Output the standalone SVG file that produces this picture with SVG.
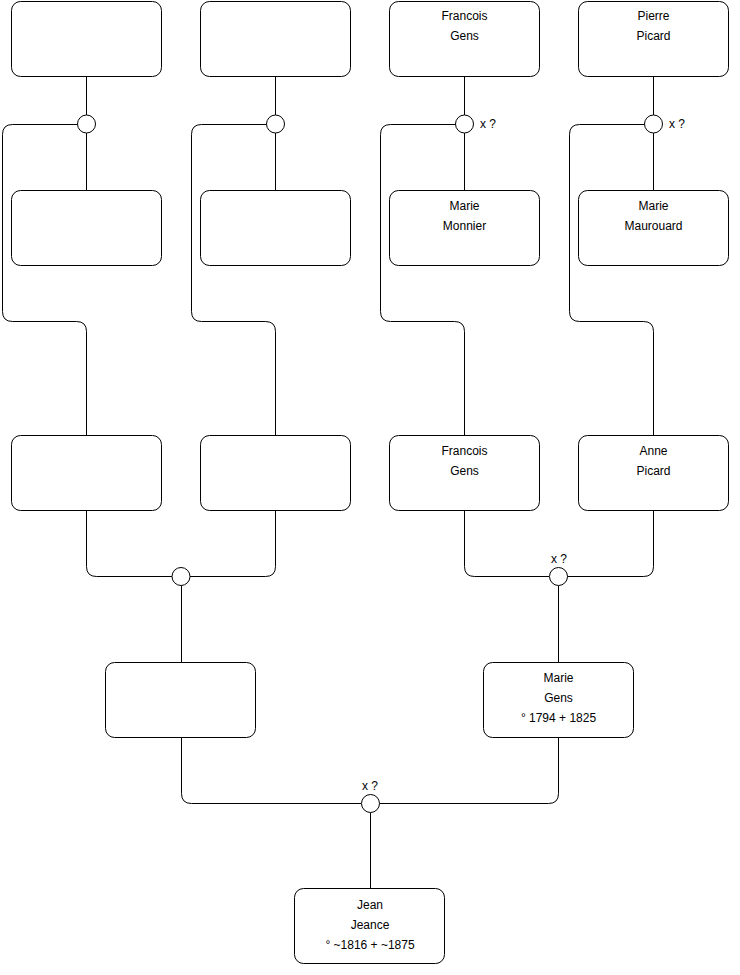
<svg xmlns="http://www.w3.org/2000/svg" width="740" height="975" viewBox="0 0 740 975">
<style>
.box{fill:#fff;stroke:#000;stroke-width:1}
.c{fill:#fff;stroke:#000;stroke-width:1}
.l{fill:none;stroke:#000;stroke-width:1}
text{font-family:"Liberation Sans",Arial,sans-serif;font-size:12px;fill:#000}
.m{text-anchor:middle}
</style>
<rect width="740" height="975" fill="#fff"/>
<g id="connectors">
<path class="l" d="M86.5 76.5V115 M86.5 133V190 M77.5 124.5H12.5Q2.5 124.5 2.5 134.5V311.5Q2.5 321.5 12.5 321.5H76.5Q86.5 321.5 86.5 331.5V435"/>
<path class="l" d="M275.5 76.5V115 M275.5 133V190 M266.5 124.5H201.5Q191.5 124.5 191.5 134.5V311.5Q191.5 321.5 201.5 321.5H265.5Q275.5 321.5 275.5 331.5V435"/>
<path class="l" d="M464.5 76.5V115 M464.5 133V190 M455.5 124.5H390.5Q380.5 124.5 380.5 134.5V311.5Q380.5 321.5 390.5 321.5H454.5Q464.5 321.5 464.5 331.5V435"/>
<path class="l" d="M653.5 76.5V115 M653.5 133V190 M644.5 124.5H579.5Q569.5 124.5 569.5 134.5V311.5Q569.5 321.5 579.5 321.5H643.5Q653.5 321.5 653.5 331.5V435"/>
<path class="l" d="M86.5 510.5V566.5Q86.5 576.5 96.5 576.5H172 M275.5 510.5V566.5Q275.5 576.5 265.5 576.5H190 M181.5 585.5V662"/>
<path class="l" d="M464.5 510.5V566.5Q464.5 576.5 474.5 576.5H549 M653.5 510.5V566.5Q653.5 576.5 643.5 576.5H567 M558.5 585.5V662"/>
<path class="l" d="M181.5 737.5V793.5Q181.5 803.5 191.5 803.5H361 M558.5 737.5V793.5Q558.5 803.5 548.5 803.5H379 M370.5 812.5V888"/>
</g>
<g id="u1"><circle class="c" cx="86.5" cy="124" r="9"/></g>
<g id="u2"><circle class="c" cx="275.5" cy="124" r="9"/></g>
<g id="u3"><circle class="c" cx="464.5" cy="124" r="9"/><text x="480" y="128">x ?</text></g>
<g id="u4"><circle class="c" cx="653.5" cy="124" r="9"/><text x="669" y="128">x ?</text></g>
<g id="u5"><circle class="c" cx="181" cy="576.5" r="9"/></g>
<g id="u6"><circle class="c" cx="558.5" cy="576.5" r="9"/><text class="m" x="559" y="563">x ?</text></g>
<g id="u7"><circle class="c" cx="370.5" cy="803.5" r="9"/><text class="m" x="370" y="790">x ?</text></g>
<g id="p1"><rect class="box" x="11.5" y="1.5" width="150" height="75" rx="9"/></g>
<g id="p2"><rect class="box" x="200.5" y="1.5" width="150" height="75" rx="9"/></g>
<g id="p3"><rect class="box" x="389.5" y="1.5" width="150" height="75" rx="9"/><text class="m" x="464.5" y="20">Francois</text><text class="m" x="464.5" y="40">Gens</text></g>
<g id="p4"><rect class="box" x="578.5" y="1.5" width="150" height="75" rx="9"/><text class="m" x="653.5" y="20">Pierre</text><text class="m" x="653.5" y="40">Picard</text></g>
<g id="p5"><rect class="box" x="11.5" y="190.5" width="150" height="75" rx="9"/></g>
<g id="p6"><rect class="box" x="200.5" y="190.5" width="150" height="75" rx="9"/></g>
<g id="p7"><rect class="box" x="389.5" y="190.5" width="150" height="75" rx="9"/><text class="m" x="464.5" y="210">Marie</text><text class="m" x="464.5" y="230">Monnier</text></g>
<g id="p8"><rect class="box" x="578.5" y="190.5" width="150" height="75" rx="9"/><text class="m" x="653.5" y="210">Marie</text><text class="m" x="653.5" y="230">Maurouard</text></g>
<g id="p9"><rect class="box" x="11.5" y="435.5" width="150" height="75" rx="9"/></g>
<g id="p10"><rect class="box" x="200.5" y="435.5" width="150" height="75" rx="9"/></g>
<g id="p11"><rect class="box" x="389.5" y="435.5" width="150" height="75" rx="9"/><text class="m" x="464.5" y="455">Francois</text><text class="m" x="464.5" y="475">Gens</text></g>
<g id="p12"><rect class="box" x="578.5" y="435.5" width="150" height="75" rx="9"/><text class="m" x="653.5" y="455">Anne</text><text class="m" x="653.5" y="475">Picard</text></g>
<g id="p13"><rect class="box" x="105.5" y="662.5" width="150" height="75" rx="9"/></g>
<g id="p14"><rect class="box" x="483.5" y="662.5" width="150" height="75" rx="9"/><text class="m" x="558.5" y="682">Marie</text><text class="m" x="558.5" y="702">Gens</text><text class="m" x="558.5" y="722">° 1794 + 1825</text></g>
<g id="p15"><rect class="box" x="294.5" y="888.5" width="150" height="75" rx="9"/><text class="m" x="370" y="909">Jean</text><text class="m" x="370" y="929">Jeance</text><text class="m" x="370" y="949">° ~1816 + ~1875</text></g>
</svg>
